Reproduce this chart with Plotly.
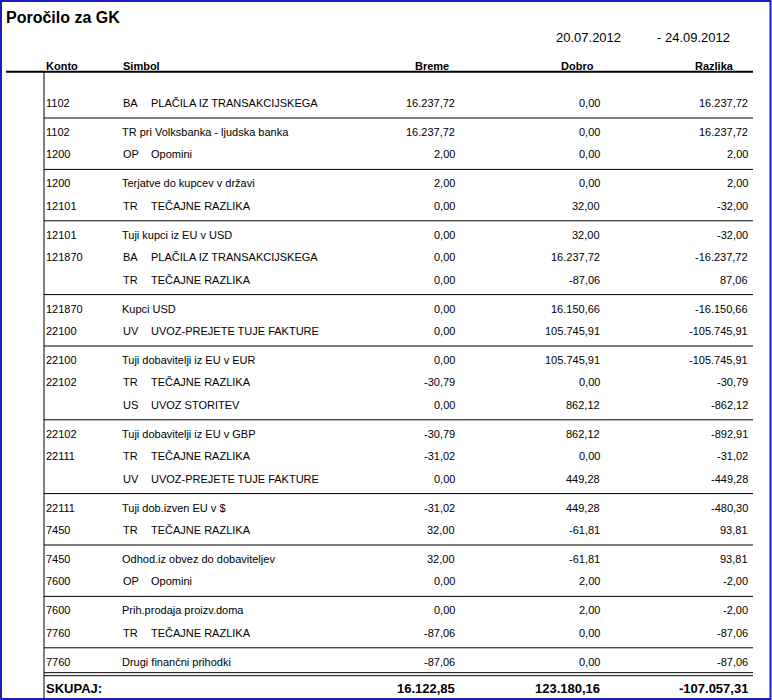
import plotly.graph_objects as go

# ---------------- data ----------------
title_text = "Poročilo za GK"
date_from = "20.07.2012"
date_to = "- 24.09.2012"
headers = ["Konto", "Simbol", "Breme", "Dobro", "Razlika"]
total_label = "SKUPAJ:"

group = [0, 1, 1, 2, 2, 3, 3, 3, 4, 4, 5, 5, 5, 6, 6, 6, 7, 7, 8, 8, 9, 9, 10]
konto = ["1102", "1102", "1200", "1200", "12101", "12101", "121870", "",
         "121870", "22100", "22100", "22102", "", "22102", "22111", "",
         "22111", "7450", "7450", "7600", "7600", "7760", "7760"]
simbol = ["BA", "", "OP", "", "TR", "", "BA", "TR", "", "UV", "", "TR", "US",
          "", "TR", "UV", "", "TR", "", "OP", "", "TR", ""]
opis = ["PLAČILA IZ TRANSAKCIJSKEGA", "TR pri Volksbanka - ljudska banka",
        "Opomini", "Terjatve do kupcev v državi", "TEČAJNE RAZLIKA",
        "Tuji kupci iz EU v USD", "PLAČILA IZ TRANSAKCIJSKEGA",
        "TEČAJNE RAZLIKA", "Kupci USD", "UVOZ-PREJETE TUJE FAKTURE",
        "Tuji dobavitelji iz EU v EUR", "TEČAJNE RAZLIKA", "UVOZ STORITEV",
        "Tuji dobavitelji iz EU v GBP", "TEČAJNE RAZLIKA",
        "UVOZ-PREJETE TUJE FAKTURE", "Tuji dob.izven EU v $",
        "TEČAJNE RAZLIKA", "Odhod.iz obvez do dobaviteljev", "Opomini",
        "Prih.prodaja proizv.doma", "TEČAJNE RAZLIKA",
        "Drugi finančni prihodki"]
breme = [16237.72, 16237.72, 2.00, 2.00, 0.00, 0.00, 0.00, 0.00, 0.00, 0.00,
         0.00, -30.79, 0.00, -30.79, -31.02, 0.00, -31.02, 32.00, 32.00, 0.00,
         0.00, -87.06, -87.06]
dobro = [0.00, 0.00, 0.00, 0.00, 32.00, 32.00, 16237.72, -87.06, 16150.66,
         105745.91, 105745.91, 0.00, 862.12, 862.12, 0.00, 449.28, 449.28,
         -61.81, -61.81, 2.00, 2.00, 0.00, 0.00]
razlika = [16237.72, 16237.72, 2.00, 2.00, -32.00, -32.00, -16237.72, 87.06,
           -16150.66, -105745.91, -105745.91, -30.79, -862.12, -892.91,
           -31.02, -449.28, -480.30, 93.81, 93.81, -2.00, -2.00, -87.06,
           -87.06]
total_breme = 16122.85
total_dobro = 123180.16
total_razlika = -107057.31

# ---------------- layout constants ----------------
W, H = 772, 700
FONT = "Liberation Sans, Arial, sans-serif"
X_KONTO, X_CODE, X_DESC, X_NAME = 46, 123, 151, 122
X_BREME, X_DOBRO, X_RAZLIKA = 455, 600, 748
LINE_X0, LINE_X1 = 44, 753
HEADER_LINE_Y = 71.7
FIRST_TOP = 89.0
PITCH, TOP_PAD, BOT_PAD = 22.4, 13.9, 15.1


def fmt(v):
    s = f"{abs(v):,.2f}".replace(",", "X").replace(".", ",").replace("X", ".")
    return ("-" if v < 0 else "") + s


# compute row positions from group structure
row_y = []
sep_y = []
y = FIRST_TOP
groups_order = []
for g in group:
    if g not in groups_order:
        groups_order.append(g)
for gi, g in enumerate(groups_order):
    idx = [i for i, gg in enumerate(group) if gg == g]
    for k, _ in enumerate(idx):
        row_y.append(y + TOP_PAD + PITCH * k)
    if gi < len(groups_order) - 1:
        y += TOP_PAD + PITCH * (len(idx) - 1) + BOT_PAD
        sep_y.append(y)
double_y = row_y[-1] + 11
total_y = double_y + 15.5

fig = go.Figure()
ann = []


def text(x, yy, s, anchor="left", size=11, bold=False):
    ann.append(dict(x=x, y=yy, xref="x", yref="y", text=(f"<b>{s}</b>" if bold else s),
                    showarrow=False, xanchor=anchor, yanchor="middle",
                    borderpad=0, borderwidth=0,
                    font=dict(family=FONT, size=size, color="black")))


# title & dates
text(6, 17, title_text, size=16, bold=True)
text(556, 37, date_from, size=13)
text(657, 37, date_to, size=13)

# headers
text(46, 66, headers[0], bold=True)
text(123, 66, headers[1], bold=True)
text(432, 66, headers[2], anchor="center", bold=True)
text(577, 66, headers[3], anchor="center", bold=True)
text(714, 66, headers[4], anchor="center", bold=True)

# rows
for i in range(len(konto)):
    yy = row_y[i]
    if konto[i]:
        text(X_KONTO, yy, konto[i])
    if simbol[i]:
        text(X_CODE, yy, simbol[i])
        text(X_DESC, yy, opis[i])
    else:
        text(X_NAME, yy, opis[i])
    text(X_BREME, yy, fmt(breme[i]), anchor="right")
    text(X_DOBRO, yy, fmt(dobro[i]), anchor="right")
    text(X_RAZLIKA, yy, fmt(razlika[i]), anchor="right")

# totals
text(X_KONTO, total_y, total_label, size=13, bold=True)
text(X_BREME, total_y, fmt(total_breme), anchor="right", size=13, bold=True)
text(X_DOBRO, total_y, fmt(total_dobro), anchor="right", size=13, bold=True)
text(X_RAZLIKA, total_y, fmt(total_razlika), anchor="right", size=13, bold=True)

shapes = []
# header thick line
shapes.append(dict(type="line", xref="x", yref="y", x0=6, x1=LINE_X1,
                   y0=HEADER_LINE_Y, y1=HEADER_LINE_Y, line=dict(color="black", width=2)))
# vertical line
shapes.append(dict(type="line", xref="x", yref="y", x0=LINE_X0, x1=LINE_X0,
                   y0=HEADER_LINE_Y, y1=H, line=dict(color="black", width=1)))
for sy in sep_y:
    shapes.append(dict(type="line", xref="x", yref="y", x0=LINE_X0, x1=LINE_X1,
                       y0=sy, y1=sy, line=dict(color="black", width=1)))
for dy in (double_y, double_y + 3):
    shapes.append(dict(type="line", xref="x", yref="y", x0=LINE_X0, x1=LINE_X1,
                       y0=dy, y1=dy, line=dict(color="black", width=1)))
# blue window border
shapes.append(dict(type="rect", xref="x", yref="y", x0=1, x1=770.5, y0=1, y1=699,
                   line=dict(color="#1c1cc0", width=2), fillcolor="rgba(0,0,0,0)"))

fig.update_layout(
    width=W, height=H,
    margin=dict(l=0, r=0, t=0, b=0),
    paper_bgcolor="white", plot_bgcolor="white",
    xaxis=dict(range=[0, W], visible=False, fixedrange=True),
    yaxis=dict(range=[H, 0], visible=False, fixedrange=True),
    annotations=ann, shapes=shapes, showlegend=False,
)

fig.write_html(
    "out.html",
    config={"displayModeBar": False},
    post_script="document.body.style.margin='0';document.body.style.overflow='hidden';",
)
